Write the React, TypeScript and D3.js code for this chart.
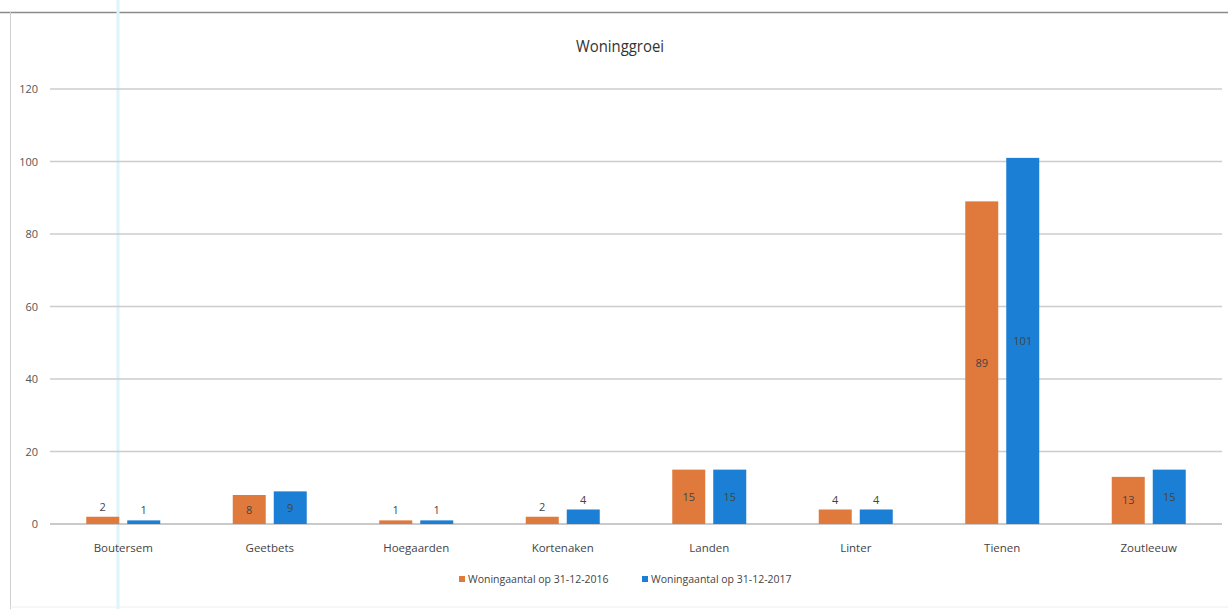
import React from "react";
import * as d3 from "d3";

const title = "Woninggroei";
const categories = ["Boutersem", "Geetbets", "Hoegaarden", "Kortenaken", "Landen", "Linter", "Tienen", "Zoutleeuw"];
const series2016 = [2, 8, 1, 2, 15, 4, 89, 13];
const series2017 = [1, 9, 1, 4, 15, 4, 101, 15];
const seriesNames = ["Woningaantal op 31-12-2016", "Woningaantal op 31-12-2017"];
const yTicks = [0, 20, 40, 60, 80, 100, 120];

const W = 1228;
const H = 609;
const colors = ["#E0793C", "#1C7FD6"];
const FONT = "'Open Sans', 'Liberation Sans', sans-serif";

export default function App() {
  const plotLeft = 50;
  const plotRight = 1222;
  const x = d3.scaleBand<string>().domain(categories).range([plotLeft, plotRight]).paddingInner(0).paddingOuter(0);
  const y = d3.scaleLinear().domain([0, 120]).range([524, 89]);
  const barW = 33;
  const gap = 8;
  const series = [series2016, series2017];

  return (
    <svg width={W} height={H} style={{ position: "absolute", left: 0, top: 0, background: "#fff" }} fontFamily={FONT}>
      <rect x={0} y={0} width={W} height={H} fill="#fff" />
      {/* outer frame */}
      <line x1={0} x2={W} y1={12.5} y2={12.5} stroke="#8a8a8a" strokeWidth={1.5} />
      <line x1={10.5} x2={10.5} y1={12} y2={H} stroke="#cfcfcf" strokeWidth={1} />
      <line x1={10} x2={W} y1={607} y2={607} stroke="#eeeeee" strokeWidth={1} />
      {/* scan line */}
      <line x1={118} x2={118} y1={0} y2={H} stroke="#dcf4fa" strokeWidth={3} />

      <text x={620} y={52} textAnchor="middle" fontSize={17} fill="#333" textLength={88} lengthAdjust="spacingAndGlyphs">{title}</text>

      {yTicks.map((t) => (
        <g key={t}>
          <line x1={plotLeft} x2={plotRight} y1={y(t)} y2={y(t)} stroke={t === 0 ? "#b8b8b8" : "#cccccc"} strokeWidth={1.5} />
          <text x={38} y={y(t) + 4} textAnchor="end" fontSize={11} fill="#555">{t}</text>
        </g>
      ))}

      {categories.map((c, i) => {
        const cx = (x(c) as number) + x.bandwidth() / 2;
        return (
          <g key={c}>
            {series.map((s, k) => {
              const v = s[i];
              const bx = k === 0 ? cx - gap / 2 - barW : cx + gap / 2;
              const top = y(v);
              const h = y(0) - top;
              const inside = h > 20;
              return (
                <g key={k}>
                  <rect x={bx} y={top} width={barW} height={h} fill={colors[k]} />
                  <text
                    x={bx + barW / 2}
                    y={inside ? top + h / 2 + 4 : top - 6}
                    textAnchor="middle"
                    fontSize={11}
                    fill="#444"
                  >
                    {v}
                  </text>
                </g>
              );
            })}
            <text x={cx} y={552} textAnchor="middle" fontSize={11.5} fill="#444">{c}</text>
          </g>
        );
      })}

      {/* legend */}
      {seriesNames.map((n, k) => {
        const lx = k === 0 ? 459 : 642;
        return (
          <g key={n}>
            <rect x={lx} y={576} width={6} height={6} fill={colors[k]} />
            <text x={lx + 9} y={583} fontSize={10.5} fill="#444">{n}</text>
          </g>
        );
      })}
    </svg>
  );
}
